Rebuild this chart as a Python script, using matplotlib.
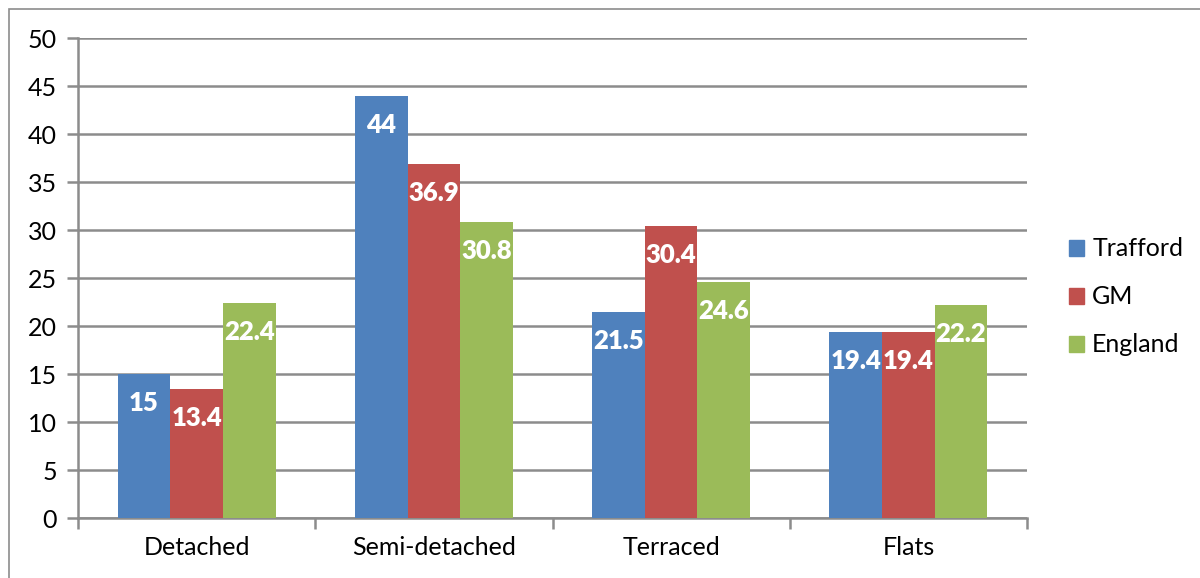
import numpy as np
import matplotlib.pyplot as plt
from matplotlib.patches import Patch, Rectangle

# housing type shares (%)
categories = ['Detached', 'Semi-detached', 'Terraced', 'Flats']
trafford = [15, 44, 21.5, 19.4]
gm = [13.4, 36.9, 30.4, 19.4]
england = [22.4, 30.8, 24.6, 22.2]
series_names = ['Trafford', 'GM', 'England']
colors = ['#4F81BD', '#C0504D', '#9BBB59']

plt.rcParams['font.family'] = ['Lato', 'DejaVu Sans']

fig = plt.figure(figsize=(12, 5.78), dpi=100)
ax = fig.add_axes([78 / 1200, 1 - 518 / 578, (1027 - 78) / 1200, (518 - 38) / 578])

# outer chart border
fig.add_artist(Rectangle((9 / 1200, -0.1), 1.2, 1 - 9 / 578 + 0.1, transform=fig.transFigure,
                         fill=False, edgecolor='#8c8c8c', linewidth=1.2))

x = np.arange(len(categories))
w = 0.222
grid_c = '#8c8c8c'

for i, (vals, name, c) in enumerate(zip([trafford, gm, england], series_names, colors)):
    pos = x + (i - 1) * w
    ax.bar(pos, vals, width=w, color=c, zorder=3, label=name)
    for p, v in zip(pos, vals):
        ax.annotate(f'{v:g}', (p, v), xytext=(0, -29), textcoords='offset pixels',
                    ha='center', va='center', color='white', fontsize=18.5,
                    fontweight='heavy', zorder=4)

ax.set_xlim(-0.5, len(categories) - 0.5)
ax.set_ylim(0, 50)
ax.set_yticks(np.arange(0, 51, 5))
ax.yaxis.grid(True, color=grid_c, linewidth=1.8, zorder=0)
ax.set_axisbelow(True)

ax.set_xticks(np.arange(-0.5, len(categories), 1))
ax.set_xticklabels([])
ax.set_xticks(x, minor=True)
ax.set_xticklabels(categories, minor=True)
ax.tick_params(axis='x', which='major', length=8, width=1.8, color=grid_c)
ax.tick_params(axis='x', which='minor', length=0, pad=13, labelsize=18)
ax.tick_params(axis='y', length=8, width=1.8, color=grid_c, labelsize=18, pad=7)

for s in ['top', 'right']:
    ax.spines[s].set_visible(False)
for s in ['left', 'bottom']:
    ax.spines[s].set_color(grid_c)
    ax.spines[s].set_linewidth(1.8)

handles = [Patch(color=c, label=n) for c, n in zip(colors, series_names)]
fig.legend(handles=handles, loc='center left', bbox_to_anchor=(1046 / 1200, 1 - 297 / 578),
           frameon=False, fontsize=18, handlelength=0.6, handleheight=0.6,
           handletextpad=0.35, labelspacing=1.0)

fig.savefig('out.png', dpi=100)
